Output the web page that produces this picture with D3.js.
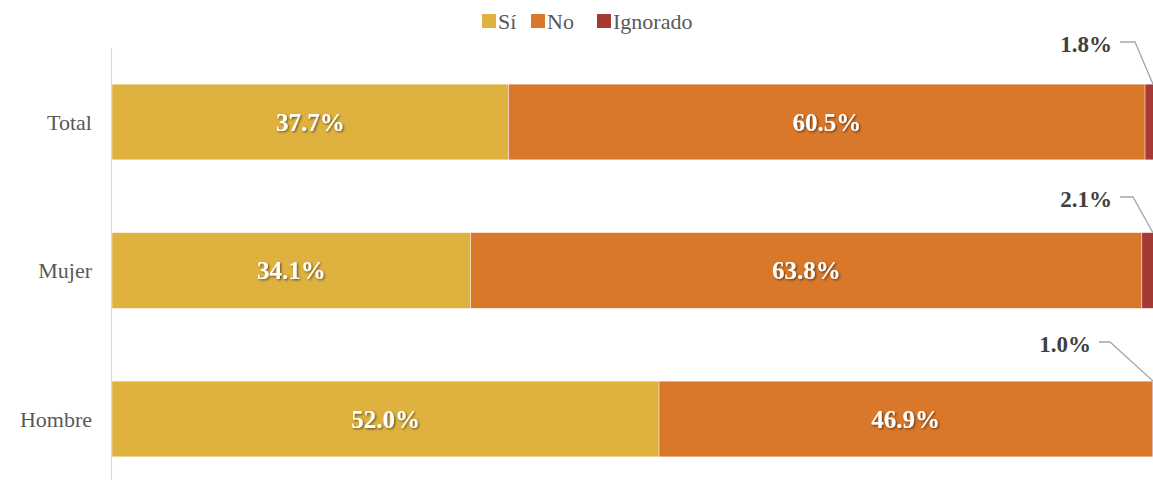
<!DOCTYPE html>
<html>
<head>
<meta charset="utf-8">
<script src="https://cdn.jsdelivr.net/npm/d3@7"></script>
<style>
  body { margin: 0; background: #fff; font-family: 'Liberation Serif', serif; }
  svg { display: block; }
</style>
</head>
<body>
<svg id="chart"></svg>
<script>
const width = 1153;
const height = 482;

const categories = ["Total", "Mujer", "Hombre"];
const series = ["Sí", "No", "Ignorado"];
const siValues = [37.7, 34.1, 52.0];
const noValues = [60.5, 63.8, 46.9];
const ignValues = [1.8, 2.1, 1.0];

const colors = ["#DFB23F", "#D9782A", "#A43A33"];
const serifFont = "Liberation Serif";

// leader-label placement for the small "Ignorado" segments (pixels)
const calloutOffsets = [
    { tx: 1112, ty: 52, bend: 1135 },
    { tx: 1112, ty: 207, bend: 1133 },
    { tx: 1091, ty: 352, bend: 1110 }
];

const svg = d3.select("#chart")
    .attr("width", width)
    .attr("height", height);

const defs = svg.append("defs");
const shadow = defs.append("filter")
    .attr("id", "shadow")
    .attr("x", "-20%").attr("y", "-40%")
    .attr("width", "140%").attr("height", "180%");
shadow.append("feDropShadow")
    .attr("dx", 1.2).attr("dy", 1.2)
    .attr("stdDeviation", 0.8)
    .attr("flood-color", "#000")
    .attr("flood-opacity", 0.55);

const rows = categories.map((c, i) => ({
    category: c,
    values: [siValues[i], noValues[i], ignValues[i]]
}));

const x = d3.scaleLinear()
    .domain([0, 100])
    .range([112, 1164]);

const y = d3.scaleBand()
    .domain(categories)
    .range([47.75, 493.25])
    .paddingInner(0.49)
    .paddingOuter(0.245);

// bars
rows.forEach((row, i) => {
    let start = 0;
    row.values.forEach((v, j) => {
        svg.append("rect")
            .attr("x", x(start))
            .attr("y", y(row.category))
            .attr("width", x(start + v) - x(start))
            .attr("height", y.bandwidth())
            .attr("fill", colors[j])
            .attr("stroke", "#fff")
            .attr("stroke-width", 0.4);

        if (j < 2) {
            svg.append("text")
                .attr("x", x(start + v / 2))
                .attr("y", y(row.category) + y.bandwidth() / 2)
                .attr("dy", "0.35em")
                .attr("text-anchor", "middle")
                .attr("fill", "#fff")
                .attr("filter", "url(#shadow)")
                .style("font-family", serifFont)
                .style("font-weight", "bold")
                .style("font-size", "25px")
                .text(v.toFixed(1) + "%");
        }
        start += v;
    });

    // callout for Ignorado
    const v = row.values[2];
    const before = row.values[0] + row.values[1];
    const ax = Math.min(x(before + v / 2), 1153);
    const ay = y(row.category);
    const off = calloutOffsets[i];
    svg.append("polyline")
        .attr("points", `${off.tx + 8},${off.ty - 10} ${off.bend},${off.ty - 10} ${ax},${ay}`)
        .attr("fill", "none")
        .attr("stroke", "#A6A6A6")
        .attr("stroke-width", 1.3);
    svg.append("text")
        .attr("x", off.tx)
        .attr("y", off.ty)
        .attr("text-anchor", "end")
        .attr("fill", "#404040")
        .style("font-family", serifFont)
        .style("font-weight", "bold")
        .style("font-size", "23px")
        .text(v.toFixed(1) + "%");
});

// category axis
svg.append("line")
    .attr("x1", 111.5).attr("x2", 111.5)
    .attr("y1", 48).attr("y2", 480)
    .attr("stroke", "#D9D9D9")
    .attr("stroke-width", 1.2);

svg.selectAll("text.cat")
    .data(categories)
    .enter()
    .append("text")
    .attr("class", "cat")
    .attr("x", 92)
    .attr("y", d => y(d) + y.bandwidth() / 2)
    .attr("dy", "0.35em")
    .attr("text-anchor", "end")
    .attr("fill", "#595959")
    .style("font-family", serifFont)
    .style("font-size", "22px")
    .text(d => d);

// legend
const legendX = [482, 531, 597];
const legend = svg.selectAll("g.legend")
    .data(series)
    .enter()
    .append("g")
    .attr("class", "legend")
    .attr("transform", (d, i) => `translate(${legendX[i]},14)`);

legend.append("rect")
    .attr("width", 14)
    .attr("height", 14)
    .attr("fill", (d, i) => colors[i]);

legend.append("text")
    .attr("x", 16)
    .attr("y", 7)
    .attr("dy", "0.35em")
    .attr("fill", "#595959")
    .style("font-family", serifFont)
    .style("font-size", "22px")
    .text(d => d);
</script>
</body>
</html>
